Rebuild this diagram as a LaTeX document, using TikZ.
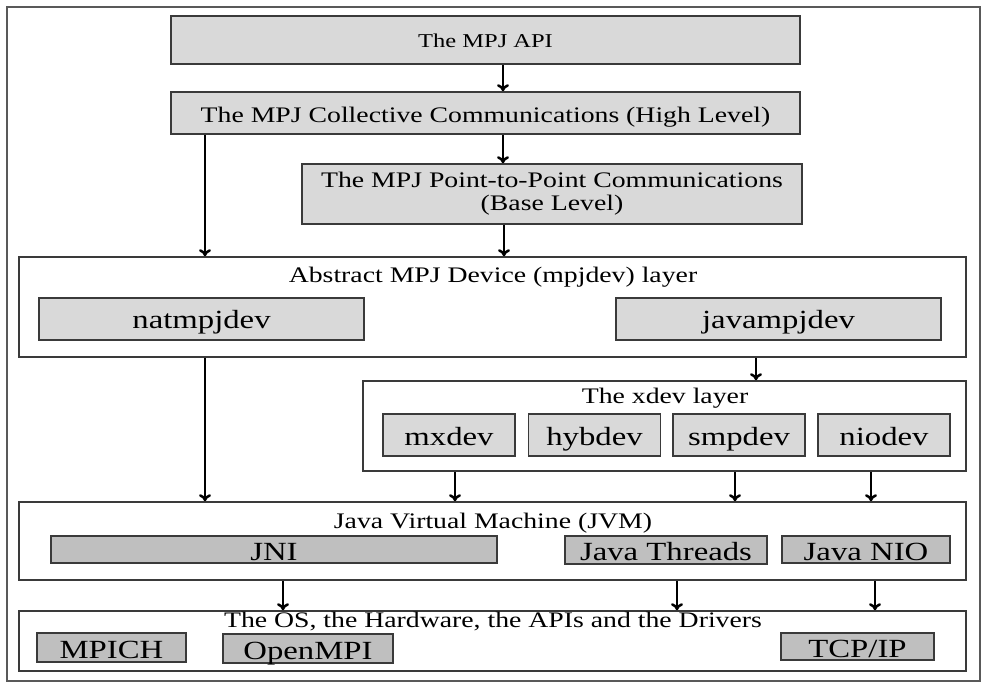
\documentclass[tikz,border=0pt]{standalone}
\usepackage{fontspec}
\setmainfont{Liberation Serif}[FakeStretch=1.25]
\usetikzlibrary{arrows.meta}
\definecolor{boxlight}{HTML}{D9D9D9}
\definecolor{boxdark}{HTML}{BFBFBF}
\definecolor{edge}{HTML}{3A3A3A}
\newcommand{\labelsize}{\fontsize{11.1}{11.5}\selectfont}
\newcommand{\bigsize}{\fontsize{13.1}{14}\selectfont}
\tikzset{
  layerbox/.style={draw=edge, line width=0.8pt, fill=white, inner sep=0pt},
  lightbox/.style={draw=edge, line width=0.8pt, fill=boxlight, inner sep=0pt},
  devbox/.style={lightbox, font=\bigsize, text height=10pt, text depth=0pt},
  darkbox/.style={draw=edge, line width=0.8pt, fill=boxdark, inner sep=0pt,
    font=\bigsize, text height=10.5pt, text depth=0pt},
  title/.style={anchor=base, inner sep=0pt, font=\labelsize},
  arr/.style={line width=1.25pt, -{To[length=3.5pt,width=6pt]}}
}
\begin{document}
\begin{tikzpicture}[x=0.5pt,y=-0.5pt]
  \useasboundingbox (0,0) rectangle (983,683);
  \draw[line width=1pt, draw=black!65] (7,7) rectangle (980,681);
  % upper layers
  \node[lightbox, minimum width=314.5pt, minimum height=24pt, font=\fontsize{9.8}{11}\selectfont,
    text height=8pt, text depth=0pt] (api) at (485.5,40) {The MPJ API};
  \node[lightbox, minimum width=314.5pt, minimum height=21pt, font=\labelsize,
    text height=10pt, text depth=0pt] (coll) at (485.5,113) {The MPJ Collective Communications (High Level)};
  \node[lightbox, minimum width=250pt, minimum height=30pt, font=\labelsize, align=center]
    (p2p) at (552,194) {The MPJ Point-to-Point Communications\\(Base Level)};
  % mpjdev
  \node[layerbox, minimum width=473.5pt, minimum height=50pt] (mpjdev) at (492.5,307) {};
  \node[title] (mpjdevtitle) at (493,283) {Abstract MPJ Device (mpjdev) layer};
  \node[devbox, minimum width=162.5pt, minimum height=21pt] (nat) at (201.5,319) {natmpjdev};
  \node[devbox, minimum width=162.5pt, minimum height=21pt] (jav) at (778.5,319) {javampjdev};
  % xdev
  \node[layerbox, minimum width=301.5pt, minimum height=45pt] (xdev) at (664.5,426) {};
  \node[title] (xdevtitle) at (665,403) {The xdev layer};
  \node[devbox, minimum width=66pt, minimum height=21pt] (mx) at (449,435) {mxdev};
  \node[devbox, minimum width=66pt, minimum height=21pt] (hyb) at (594.5,435) {hybdev};
  \node[devbox, minimum width=66pt, minimum height=21pt] (smp) at (739,435) {smpdev};
  \node[devbox, minimum width=66pt, minimum height=21pt] (nio) at (884,435) {niodev};
  % jvm
  \node[layerbox, minimum width=473.5pt, minimum height=39pt] (jvm) at (492.5,541) {};
  \node[title] (jvmtitle) at (493,528) {Java Virtual Machine (JVM)};
  \node[darkbox, minimum width=223pt, minimum height=13.5pt] (jni) at (274,549.5) {JNI};
  \node[darkbox, minimum width=101pt, minimum height=14pt] (thr) at (666,550) {Java Threads};
  \node[darkbox, minimum width=84pt, minimum height=13.5pt] (jnio) at (866,549.5) {Java NIO};
  % os
  \node[layerbox, minimum width=473.5pt, minimum height=30pt] (os) at (492.5,641) {};
  \node[title] (ostitle) at (493,627) {The OS, the Hardware, the APIs and the Drivers};
  \node[darkbox, minimum width=74.5pt, minimum height=14.5pt] (mpich) at (111.5,647.5) {MPICH};
  \node[darkbox, minimum width=85pt, minimum height=14.5pt] (ompi) at (308,648.5) {OpenMPI};
  \node[darkbox, minimum width=76.5pt, minimum height=13.5pt] (tcp) at (857.5,646.5) {TCP/IP};
  % arrows
  \draw[arr] (api.south -| 503,0) -- (coll.north -| 503,0);
  \draw[arr] (coll.south -| 503,0) -- (p2p.north -| 503,0);
  \draw[arr] (coll.south -| 205,0) -- (mpjdev.north -| 205,0);
  \draw[arr] (p2p.south -| 504,0) -- (mpjdev.north -| 504,0);
  \draw[arr] (mpjdev.south -| 205,0) -- (jvm.north -| 205,0);
  \draw[arr] (mpjdev.south -| 756,0) -- (xdev.north -| 756,0);
  \draw[arr] (xdev.south -| 455,0) -- (jvm.north -| 455,0);
  \draw[arr] (xdev.south -| 735,0) -- (jvm.north -| 735,0);
  \draw[arr] (xdev.south -| 871,0) -- (jvm.north -| 871,0);
  \draw[arr] (jvm.south -| 283,0) -- (os.north -| 283,0);
  \draw[arr] (jvm.south -| 677,0) -- (os.north -| 677,0);
  \draw[arr] (jvm.south -| 875,0) -- (os.north -| 875,0);
\end{tikzpicture}
\end{document}
